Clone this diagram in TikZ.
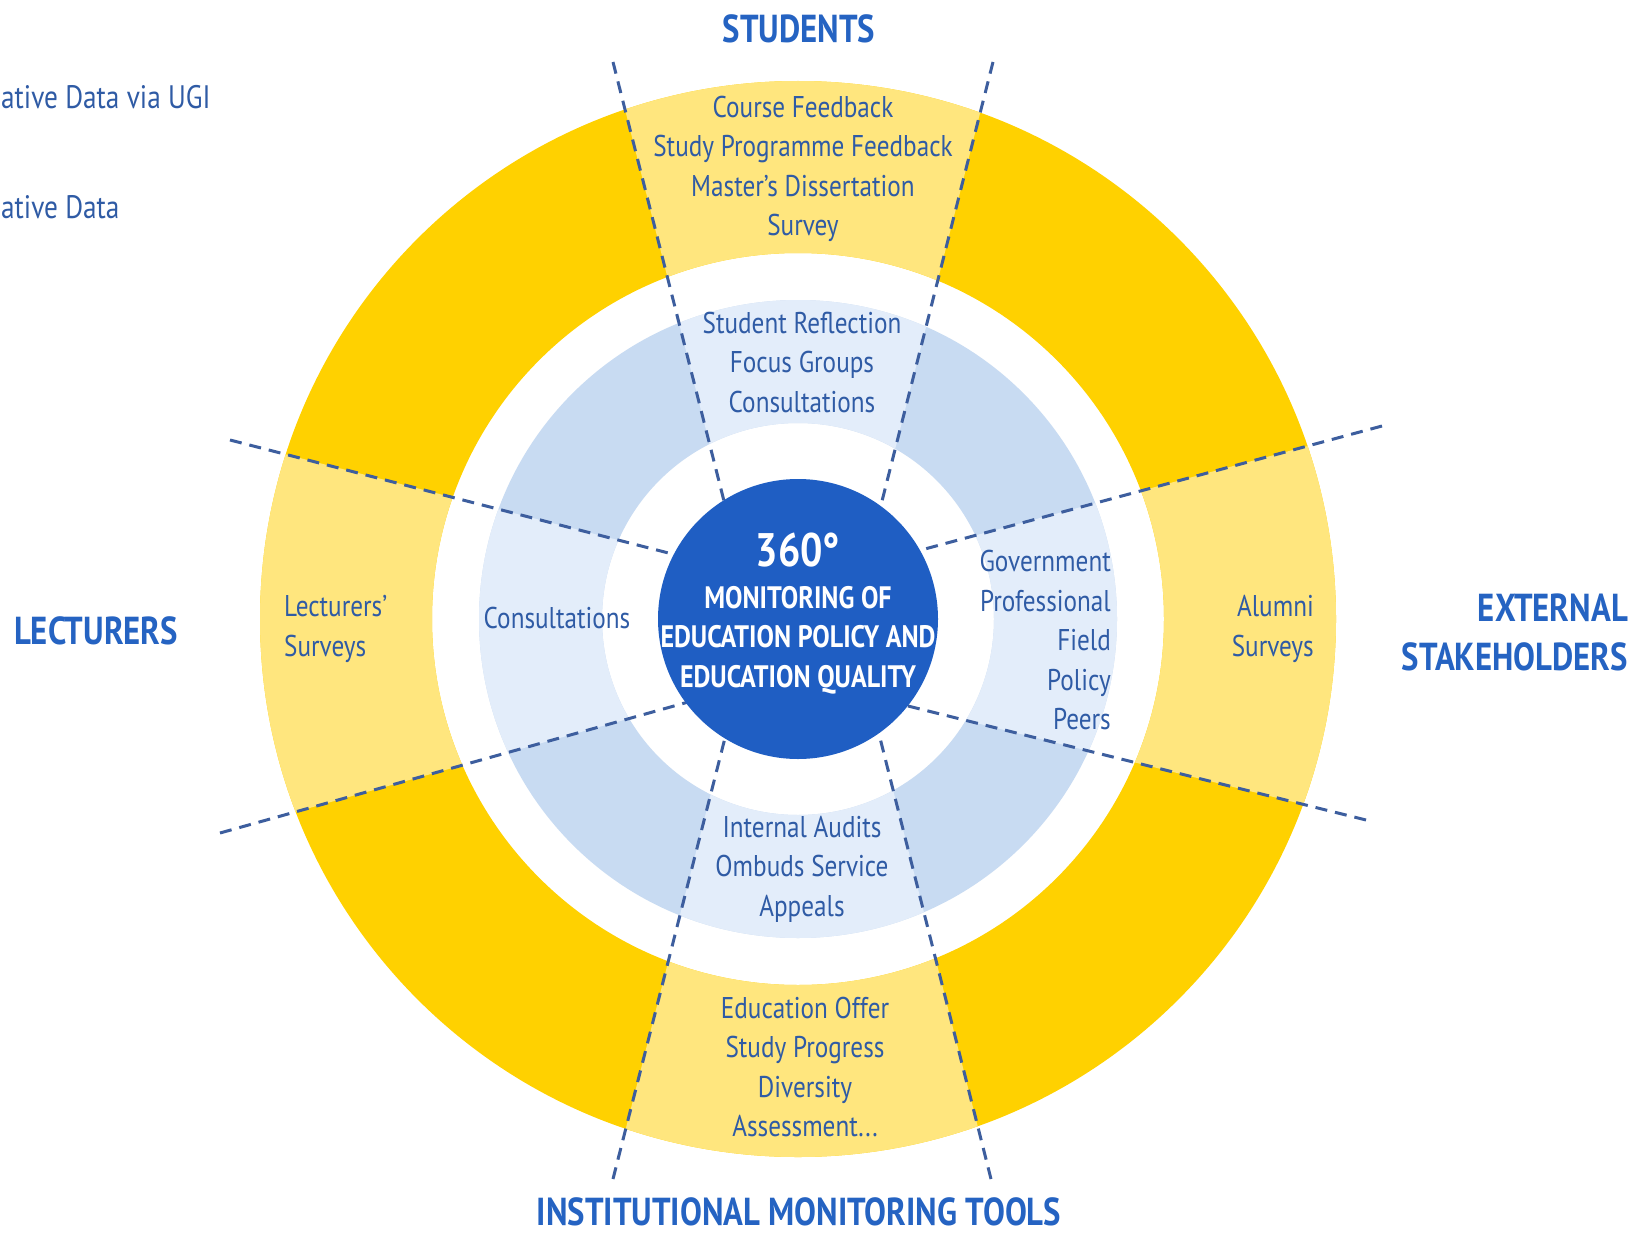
\documentclass[tikz,border=0pt]{standalone}
\usepackage{fontspec}
\setmainfont{PT Sans}[FakeStretch=0.84]
\definecolor{ydark}{HTML}{FFD100}
\definecolor{ylight}{HTML}{FFE67E}
\definecolor{bdark}{HTML}{C8DBF2}
\definecolor{blight}{HTML}{E3EDFA}
\definecolor{coreblue}{HTML}{1F5EC3}
\definecolor{labelblue}{HTML}{2F5BA5}
\definecolor{titleblue}{HTML}{2563C2}
\definecolor{dashblue}{HTML}{3D5E9E}
\tikzset{
  lbl/.style={text=labelblue, font=\fontsize{30}{39.5}\selectfont, inner sep=0pt, align=center},
  ttl/.style={text=titleblue, font=\bfseries\fontsize{39}{49}\selectfont, inner sep=0pt, align=center},
  divider/.style={draw=dashblue, line width=3pt, dash pattern=on 12pt off 8pt},
  corestyle/.style={text=white, font=\bfseries\fontsize{31}{39.5}\selectfont, inner sep=0pt, align=center},
}
\begin{document}
\begin{tikzpicture}[x=1pt,y=-1pt]
\useasboundingbox (0,0) rectangle (1636,1236);
\fill[white] (0,0) rectangle (1636,1236);
\coordinate (c) at (798,619);
% divider end points
\coordinate (t1o) at (613,62);   \coordinate (t1i) at (726,509);
\coordinate (t2o) at (993,62);   \coordinate (t2i) at (880,509);
\coordinate (r1o) at (1382,426); \coordinate (r1i) at (910,553);
\coordinate (r2o) at (1366,820); \coordinate (r2i) at (900,704);
\coordinate (b2o) at (991,1179); \coordinate (b2i) at (877,726);
\coordinate (b1o) at (613,1179); \coordinate (b1i) at (727,730);
\coordinate (l2o) at (220,833);  \coordinate (l2i) at (699,699);
\coordinate (l1o) at (230,440);  \coordinate (l1i) at (684,557);
% rings
\fill[ydark, even odd rule] (c) circle[radius=538] (c) circle[radius=366];
\fill[bdark, even odd rule] (c) circle[radius=319] (c) circle[radius=196];
% light wedges
\foreach \a/\b/\cc/\d in {t1o/t2o/t2i/t1i, r1o/r2o/r2i/r1i, b2o/b1o/b1i/b2i, l2o/l1o/l1i/l2i}{
  \begin{scope}
    \clip (\a) -- (\b) -- (\cc) -- (\d) -- cycle;
    \fill[ylight, even odd rule] (c) circle[radius=538] (c) circle[radius=366];
    \fill[blight, even odd rule] (c) circle[radius=319] (c) circle[radius=196];
  \end{scope}
}
% dividers
\draw[divider] (t1o) -- (t1i);
\draw[divider] (t2o) -- (t2i);
\draw[divider] (r1o) -- (r1i);
\draw[divider] (r2o) -- (r2i);
\draw[divider] (b2o) -- (b2i);
\draw[divider] (b1o) -- (b1i);
\draw[divider] (l2o) -- (l2i);
\draw[divider] (l1o) -- (l1i);
% core
\node[circle, fill=coreblue, minimum size=280pt, inner sep=0pt] (core) at (c) {};
\node[corestyle, font=\bfseries\fontsize{47}{50}\selectfont] (deg) at (798,550) {360°};
\node[corestyle] (coretxt) at (798,640) {MONITORING OF\\EDUCATION POLICY AND\\EDUCATION QUALITY};
% labels
\node[lbl] (topy) at (803,169) {Course Feedback\\Study Programme Feedback\\Master's Dissertation\\Survey};
\node[lbl] (topb) at (802,362) {Student Reflection\\Focus Groups\\Consultations};
\node[lbl, anchor=west, align=left] (lefty) at (284,629) {Lecturers'\\Surveys};
\node[lbl] (leftb) at (557,618) {Consultations};
\node[lbl, anchor=east, align=right] (rightb) at (1111,640) {Government\\Professional\\Field\\Policy\\Peers};
\node[lbl, anchor=east, align=right] (righty) at (1314,629) {Alumni\\Surveys};
\node[lbl] (botb) at (802,869) {Internal Audits\\Ombuds Service\\Appeals};
\node[lbl] (boty) at (805,1067) {Education Offer\\Study Progress\\Diversity\\Assessment...};
% legend fragments
\node[lbl, anchor=west, font=\fontsize{32.5}{40}\selectfont] (leg1) at (1,97) {ative Data via UGI};
\node[lbl, anchor=west, font=\fontsize{32.5}{40}\selectfont] (leg2) at (1,207) {ative Data};
% titles
\node[ttl] (students) at (799,29) {STUDENTS};
\node[ttl] (lecturers) at (96,631) {LECTURERS};
\node[ttl, anchor=east, align=right] (external) at (1628,632) {EXTERNAL\\STAKEHOLDERS};
\node[ttl] (tools) at (799,1212) {INSTITUTIONAL MONITORING TOOLS};
\end{tikzpicture}
\end{document}
